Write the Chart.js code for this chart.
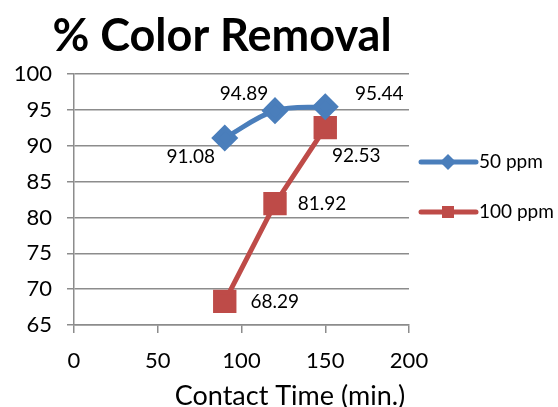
<!DOCTYPE html>
<html><head><meta charset="utf-8">
<script src="https://cdn.jsdelivr.net/npm/chart.js@4/dist/chart.umd.min.js"></script>
<style>html,body{margin:0;padding:0;background:#fff}#wrap{width:558px;height:407px}</style>
</head><body><div id="wrap"><canvas id="c" width="558" height="407"></canvas></div>
<script>
const contactTime = [90, 120, 150];
const ppm50 = [91.08, 94.89, 95.44];
const ppm100 = [68.29, 81.92, 92.53];
const seriesNames = ['50 ppm', '100 ppm'];
const chartTitle = '% Color Removal';
const xAxisTitle = 'Contact Time (min.)';
const yTicks = [65, 70, 75, 80, 85, 90, 95, 100];
const xTicks = [0, 50, 100, 150, 200];

const FONT = 'Lato, "Open Sans", sans-serif';
const BLUE = '#4A7EBB', RED = '#BE4B48';

// label offsets (px) per point: [dx, dy]
const labelOffsets = [
  [[-34, 19], [-31, -17], [54, -13]],
  [[50, 0], [47, 0], [31, 28]]
];

const extras = {
  id: 'extras',
  afterDraw(chart) {
    const ctx = chart.ctx;
    const xs = chart.scales.x, ys = chart.scales.y;
    ctx.save();
    ctx.fillStyle = '#000';
    ctx.font = 'bold 45px ' + FONT;
    ctx.textAlign = 'center'; ctx.textBaseline = 'alphabetic';
    ctx.fillText(chartTitle, 222, 51);
    ctx.font = '27px ' + FONT;
    ctx.textBaseline = 'middle';
    ctx.fillText(xAxisTitle, 290, 396);
    ctx.font = '19px ' + FONT;
    chart.data.datasets.forEach((ds, di) => {
      ds.data.forEach((p, i) => {
        const px = xs.getPixelForValue(p.x), py = ys.getPixelForValue(p.y);
        const o = labelOffsets[di][i];
        ctx.fillText(p.y.toFixed(2), px + o[0], py + o[1]);
      });
    });
    const legY = [162, 212];
    chart.data.datasets.forEach((ds, di) => {
      const y = legY[di];
      ctx.strokeStyle = ds.borderColor; ctx.lineWidth = 5; ctx.lineCap = 'round';
      ctx.beginPath(); ctx.moveTo(421, y); ctx.lineTo(476, y); ctx.stroke();
      ctx.fillStyle = ds.borderColor;
      if (di === 0) {
        ctx.beginPath(); ctx.moveTo(448, y - 8); ctx.lineTo(456, y); ctx.lineTo(448, y + 8); ctx.lineTo(440, y); ctx.closePath(); ctx.fill();
      } else {
        ctx.fillRect(442, y - 6, 12, 12);
      }
      ctx.fillStyle = '#000';
      ctx.font = '19px ' + FONT;
      ctx.textAlign = 'left';
      ctx.fillText(ds.label, 479, y);
      ctx.textAlign = 'center';
    });
    ctx.restore();
  }
};

new Chart(document.getElementById('c'), {
  type: 'line',
  data: {
    datasets: [
      { label: seriesNames[0], data: contactTime.map((x, i) => ({x, y: ppm50[i]})),
        borderColor: BLUE, backgroundColor: BLUE, borderWidth: 5, tension: 0.35,
        pointStyle: 'rectRot', pointRadius: 10, pointHoverRadius: 10 },
      { label: seriesNames[1], data: contactTime.map((x, i) => ({x, y: ppm100[i]})),
        borderColor: RED, backgroundColor: RED, borderWidth: 5, tension: 0,
        pointStyle: 'rect', pointRadius: 13, pointHoverRadius: 13 }
    ]
  },
  options: {
    responsive: false, animation: false,
    layout: { padding: { left: 0, right: 149, top: 74, bottom: 0 } },
    plugins: { legend: { display: false }, title: { display: false }, tooltip: { enabled: false } },
    scales: {
      x: {
        type: 'linear', min: 0, max: 200,
        afterBuildTicks: s => { s.ticks = xTicks.map(v => ({value: v})); },
        afterFit: s => { s.height = 82; },
        grid: { drawOnChartArea: false, drawTicks: true, tickLength: 8, color: '#8c8c8c', lineWidth: 1.5 },
        border: { color: '#8c8c8c', width: 1.5 },
        ticks: { font: { family: FONT, size: 22 }, color: '#000', padding: 15, maxRotation: 0 }
      },
      y: {
        min: 65, max: 100,
        afterBuildTicks: s => { s.ticks = yTicks.map(v => ({value: v})); },
        afterFit: s => { s.width = 74; },
        grid: { drawOnChartArea: true, drawTicks: true, tickLength: 7, color: '#8c8c8c', lineWidth: 1.5 },
        border: { color: '#8c8c8c', width: 1.5 },
        ticks: { font: { family: FONT, size: 22 }, color: '#000', padding: 15 }
      }
    }
  },
  plugins: [extras]
});
</script></body></html>
